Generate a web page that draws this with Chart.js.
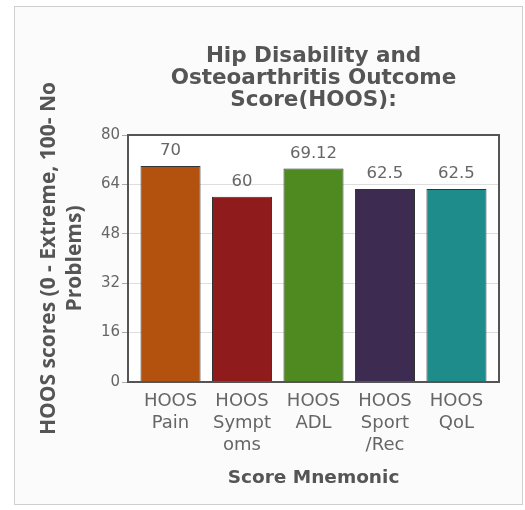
<!DOCTYPE html>
<html>
<head>
<meta charset="utf-8">
<script src="https://cdn.jsdelivr.net/npm/chart.js@4"></script>
<style>
  html, body { margin: 0; padding: 0; background: #fff; }
  #panel { position: absolute; left: 14px; top: 6px; width: 507px; height: 497px; border: 1px solid #cfcfcf; background: #fbfbfb; }
  #wrap { position: absolute; left: 0; top: 0; width: 525px; height: 510px; }
</style>
</head>
<body>
<div id="panel"></div>
<div id="wrap"><canvas id="hoosChart" width="525" height="510"></canvas></div>
<script>
// chart data
const categories = [["HOOS", "Pain"], ["HOOS", "Sympt", "oms"], ["HOOS", "ADL"], ["HOOS", "Sport", "/Rec"], ["HOOS", "QoL"]];
const scores = [70, 60, 69.12, 62.5, 62.5];
const barColors = ["#b3520f", "#8f1b1c", "#4e8a1f", "#3e2b52", "#1f8c8c"];
const yTicks = [0, 16, 32, 48, 64, 80];
const titleLines = ["Hip Disability and", "Osteoarthritis Outcome", "Score(HOOS):"];

// x runs on category index so the plot can keep a small margin at both ends
const xPoints = categories.map((c, i) => ({ x: i, y: scores[i] }));

// white plot area with dark frame
const plotFrame = {
    id: "plotFrame",
    beforeDraw(chart) {
        const a = chart.chartArea, ctx = chart.ctx;
        ctx.save();
        ctx.fillStyle = "#fff";
        ctx.fillRect(a.left, a.top, a.right - a.left, a.bottom - a.top);
        ctx.restore();
    },
    afterDraw(chart) {
        const a = chart.chartArea, ctx = chart.ctx;
        ctx.save();
        ctx.strokeStyle = "#555";
        ctx.lineWidth = 2;
        ctx.strokeRect(a.left, a.top, a.right - a.left, a.bottom - a.top);
        ctx.restore();
    }
};

// title centred over the plot area
const plotTitle = {
    id: "plotTitle",
    afterDraw(chart) {
        const a = chart.chartArea, ctx = chart.ctx;
        const cx = (a.left + a.right) / 2;
        ctx.save();
        ctx.font = "bold 21.5px 'DejaVu Sans'";
        ctx.fillStyle = "#555";
        ctx.textAlign = "center";
        ctx.textBaseline = "middle";
        titleLines.forEach(function (line, i) {
            ctx.fillText(line, cx, 56 + i * 22);
        });
        ctx.restore();
    }
};

// numbers above the bars
const barValues = {
    id: "barValues",
    afterDatasetsDraw(chart) {
        const ctx = chart.ctx;
        const meta = chart.getDatasetMeta(0);
        ctx.save();
        ctx.font = "16.5px 'DejaVu Sans'";
        ctx.fillStyle = "#666";
        ctx.textAlign = "center";
        ctx.textBaseline = "middle";
        meta.data.forEach(function (bar, i) {
            ctx.fillText(String(scores[i]), bar.x, bar.y - 15);
        });
        ctx.restore();
    }
};

new Chart(document.getElementById("hoosChart"), {
    type: "bar",
    data: {
        datasets: [{
            data: xPoints,
            backgroundColor: barColors,
            borderColor: "#333",
            borderWidth: 1,
            barPercentage: 0.84,
            categoryPercentage: 1.0
        }]
    },
    options: {
        responsive: false,
        animation: false,
        layout: { padding: { left: 0, top: 135, right: 26, bottom: 0 } },
        plugins: {
            legend: { display: false },
            tooltip: { enabled: false }
        },
        scales: {
            x: {
                type: "linear",
                offset: false,
                min: -0.595,
                max: 4.595,
                afterBuildTicks: function (s) { s.ticks = categories.map((c, i) => ({ value: i })); },
                grid: { display: false, drawTicks: false, offset: false },
                border: { display: false },
                ticks: {
                    color: "#666",
                    padding: 9,
                    maxRotation: 0,
                    autoSkip: false,
                    font: { family: "DejaVu Sans", size: 18, lineHeight: 1.2 },
                    callback: function (v) { return categories[v]; }
                },
                title: {
                    display: true,
                    text: "Score Mnemonic",
                    color: "#555",
                    font: { family: "DejaVu Sans", size: 18.5, weight: "bold", lineHeight: 1.2 },
                    padding: { top: 0, bottom: 21 }
                },
                afterFit: function (s) { s.height = 128; }
            },
            y: {
                min: 0,
                max: 80,
                afterBuildTicks: function (s) { s.ticks = yTicks.map(v => ({ value: v })); },
                grid: { color: "#dedede", tickLength: 6, tickColor: "#aaa" },
                border: { display: false },
                ticks: {
                    color: "#666",
                    padding: 2,
                    font: { family: "DejaVu Sans", size: 15 }
                },
                title: {
                    display: true,
                    text: ["HOOS scores (0 - Extreme, 100- No", "Problems)"],
                    color: "#555",
                    font: { family: "Open Sans", size: 21, weight: "bold", lineHeight: 1.24 },
                    padding: { top: 36, bottom: 0 }
                },
                afterFit: function (s) { s.width = 128; }
            }
        }
    },
    plugins: [plotFrame, plotTitle, barValues]
});
</script>
</body>
</html>
